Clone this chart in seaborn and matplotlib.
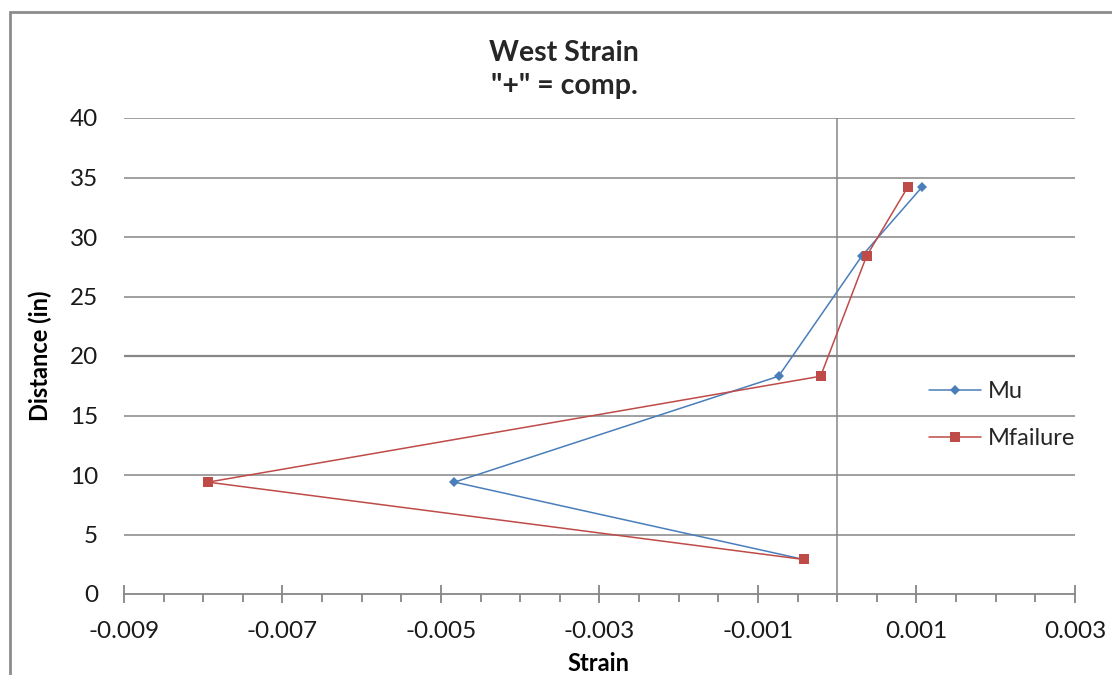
import matplotlib
matplotlib.use("Agg")
import matplotlib.pyplot as plt
import seaborn as sns
import pandas as pd
import numpy as np
from matplotlib.patches import Rectangle
from matplotlib.ticker import MultipleLocator

sns.set_theme(style="white")
plt.rcParams['font.family'] = ['Lato', 'DejaVu Sans']

# Data
distance = [34.2, 28.4, 18.3, 9.4, 2.9]
mu_strain = [0.00107, 0.00031, -0.00074, -0.00483, -0.00042]
mfail_strain = [0.00089, 0.00037, -0.00021, -0.00794, -0.00042]
x_ticks = [-0.009, -0.007, -0.005, -0.003, -0.001, 0.001, 0.003]
x_tick_labels = ["-0.009", "-0.007", "-0.005", "-0.003", "-0.001", "0.001", "0.003"]
y_ticks = [0, 5, 10, 15, 20, 25, 30, 35, 40]

blue = "#4A7EBB"
red = "#BE4B48"
grid = "#868686"

W, H = 1112, 675
fig = plt.figure(figsize=(W / 100, H / 100), dpi=100)
ax = fig.add_axes([124 / W, 1 - 594 / H, (1075 - 124) / W, (594 - 118) / H])

# chart border
fig.patches.append(Rectangle((10 / W, -0.1), 1.2, 1 - 12 / H + 0.1, transform=fig.transFigure,
                             fill=False, edgecolor="#8c8c8c", linewidth=2.0))

for yv in y_ticks[1:]:
    ax.axhline(yv, color=grid, linewidth=1.1 if yv != 20 else 1.6, zorder=1)
ax.axvline(0, color=grid, linewidth=1.1, zorder=1)

df_mu = pd.DataFrame({"Strain": mu_strain, "Distance": distance})
df_mf = pd.DataFrame({"Strain": mfail_strain, "Distance": distance})

sns.lineplot(data=df_mu, x="Strain", y="Distance", sort=False, estimator=None, ax=ax,
             color=blue, marker="D", markersize=5.5, markeredgewidth=0, linewidth=1.1,
             label="Mu", zorder=3)
sns.lineplot(data=df_mf, x="Strain", y="Distance", sort=False, estimator=None, ax=ax,
             color=red, marker="s", markersize=6.5, markeredgewidth=0, linewidth=1.1,
             label="Mfailure", zorder=3)

ax.set_xlim(-0.009, 0.003)
ax.set_ylim(0, 40)
ax.set_xticks(x_ticks)
ax.set_xticklabels(x_tick_labels)
ax.xaxis.set_minor_locator(MultipleLocator(0.0005))
ax.set_yticks(y_ticks)

for s in ["top", "right", "left"]:
    ax.spines[s].set_visible(False)
ax.spines["bottom"].set_color(grid)
ax.spines["bottom"].set_linewidth(1.3)

ax.tick_params(axis="x", which="major", direction="inout", length=13, width=1.3, color=grid,
               labelsize=17.5, pad=13, labelcolor="#1a1a1a", bottom=True)
ax.tick_params(axis="x", which="minor", direction="out", length=6, width=1.3, color=grid, bottom=True)
ax.tick_params(axis="y", which="major", length=0, labelsize=17.5, pad=18.7, labelcolor="#1a1a1a")

ax.set_xlabel("Strain", fontsize=17, fontweight="bold", color="black")
ax.set_ylabel("Distance (in)", fontsize=17, fontweight="bold", color="black")
ax.xaxis.set_label_coords((598 - 124) / 951, -0.122)
ax.yaxis.set_label_coords((52 - 124) / 951, 0.5)

fig.text(564 / W, 1 - 53 / H, "West Strain", ha="center", va="center", fontsize=20.5, fontweight="bold")
fig.text(564 / W, 1 - 86 / H, '"+" = comp.', ha="center", va="center", fontsize=20.5, fontweight="bold")

leg = ax.legend(loc="center left", bbox_to_anchor=(929 / W, 1 - 415 / H), bbox_transform=fig.transFigure,
                frameon=False, fontsize=17, handlelength=2.2, labelspacing=1.1, handletextpad=0.3,
                borderpad=0, borderaxespad=0)

fig.savefig("out.png", dpi=100)
